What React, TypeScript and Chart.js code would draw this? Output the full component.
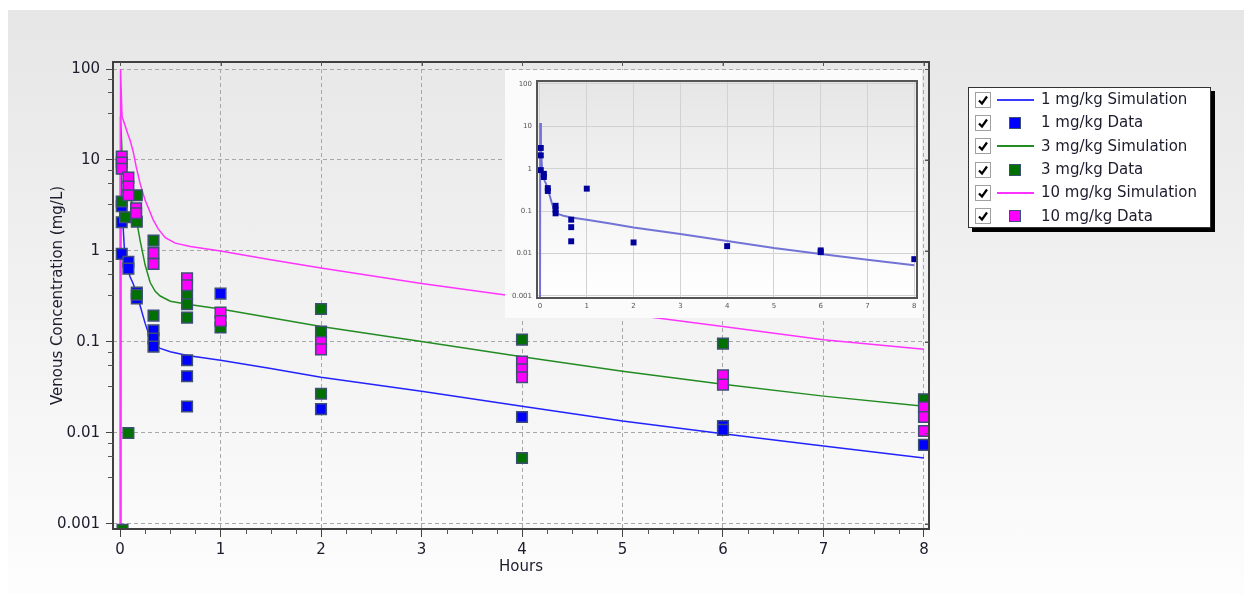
import React, { useEffect, useRef } from "react";
import { Chart, registerables } from "chart.js";
Chart.register(...registerables);

const FONT = "'DejaVu Sans', Verdana, sans-serif";

// ---- simulation curves (hours, mg/L) ----
const sim1Times = [0, 0.005, 0.02, 0.05, 0.1, 0.13, 0.17, 0.2, 0.25, 0.3, 0.35, 0.4, 0.5, 0.67, 1, 1.5, 2, 3, 4, 5, 6, 7, 8];
const sim1Values = [0.0001, 12, 3.0, 0.78, 0.52, 0.44, 0.33, 0.25, 0.16, 0.11, 0.092, 0.085, 0.078, 0.071, 0.063, 0.051, 0.041, 0.0288, 0.0197, 0.0135, 0.0098, 0.0072, 0.0053];

const sim3Times = [0, 0.005, 0.02, 0.05, 0.08, 0.12, 0.17, 0.2, 0.25, 0.3, 0.35, 0.4, 0.5, 0.67, 1, 1.5, 2, 3, 4, 5, 6, 7, 8];
const sim3Values = [0.0001, 30, 12, 6, 4.6, 3.3, 2.0, 1.3, 0.7, 0.45, 0.36, 0.32, 0.28, 0.26, 0.23, 0.185, 0.148, 0.101, 0.069, 0.0476, 0.0344, 0.0254, 0.0197];

const sim10Times = [0, 0.005, 0.02, 0.05, 0.08, 0.1, 0.13, 0.16, 0.2, 0.25, 0.28, 0.33, 0.38, 0.45, 0.55, 0.7, 1, 1.5, 2, 3, 4, 5, 6, 7, 8];
const sim10Values = [0.0001, 100, 30, 24, 19, 16.5, 12.5, 8.5, 5.5, 3.6, 3.0, 2.2, 1.75, 1.4, 1.22, 1.12, 1.0, 0.8, 0.65, 0.44, 0.31, 0.205, 0.148, 0.106, 0.083];

// ---- observed data ----
const blueTimes = [0.017, 0.017, 0.017, 0.083, 0.083, 0.167, 0.167, 0.333, 0.333, 0.333, 0.667, 0.667, 0.667, 1, 2, 4, 6, 6, 8];
const blueValues = [3.1, 2.07, 0.93, 0.76, 0.64, 0.35, 0.3, 0.134, 0.109, 0.089, 0.063, 0.042, 0.0195, 0.34, 0.0183, 0.015, 0.0119, 0.0108, 0.0074];

const greenTimes = [0.017, 0.025, 0.05, 0.083, 0.167, 0.167, 0.167, 0.333, 0.333, 0.667, 0.667, 0.667, 1, 2, 2, 2, 4, 4, 6, 8];
const greenValues = [3.5, 0.00086, 2.35, 0.01, 4.1, 2.1, 0.33, 1.3, 0.195, 0.33, 0.26, 0.185, 0.144, 0.23, 0.13, 0.027, 0.106, 0.0053, 0.096, 0.0235];

const pinkTimes = [0.017, 0.017, 0.017, 0.083, 0.083, 0.083, 0.16, 0.16, 0.333, 0.333, 0.667, 0.667, 1, 1, 2, 2, 4, 4, 4, 6, 6, 8, 8, 8];
const pinkValues = [10.9, 9.4, 8.0, 6.4, 5.1, 4.1, 2.95, 2.6, 0.95, 0.72, 0.5, 0.42, 0.21, 0.17, 0.1, 0.083, 0.061, 0.05, 0.041, 0.043, 0.034, 0.0192, 0.015, 0.0105];

// ---- axes ----
const xTicks = [0, 1, 2, 3, 4, 5, 6, 7, 8];
const yTicks = [0.001, 0.01, 0.1, 1, 10, 100];
const yMinorFactors = [0.78, 0.56, 0.33];
const xMinorStep = 0.25;

const legendItems = [
  { label: "1 mg/kg Simulation", kind: "line", color: "#3a3aff" },
  { label: "1 mg/kg Data", kind: "box", color: "#0000ff" },
  { label: "3 mg/kg Simulation", kind: "line", color: "#228b22" },
  { label: "3 mg/kg Data", kind: "box", color: "#007000" },
  { label: "10 mg/kg Simulation", kind: "line", color: "#ff33ff" },
  { label: "10 mg/kg Data", kind: "box", color: "#ff00ff" },
];

const pts = (t: number[], v: number[]) => t.map((x, i) => ({ x, y: v[i] }));

function makeFrame(color: string, width: number, minor: boolean) {
  return {
    id: "frame" + (minor ? "M" : "I"),
    afterDatasetsDraw(chart: any) {
      const { ctx, chartArea: a, scales } = chart;
      ctx.save();
      ctx.strokeStyle = color;
      ctx.lineWidth = width;
      ctx.strokeRect(a.left, a.top, a.right - a.left, a.bottom - a.top);
      if (minor) {
        ctx.lineWidth = 1;
        ctx.strokeStyle = "#555";
        ctx.beginPath();
        const ys = scales.y;
        yTicks.slice(1).forEach((d) => {
          yMinorFactors.forEach((f) => {
            const p = Math.round(ys.getPixelForValue(d * f)) + 0.5;
            ctx.moveTo(a.left - 5, p);
            ctx.lineTo(a.left, p);
          });
        });
        const xs = scales.x;
        for (let t = 0; t <= 8.001; t += xMinorStep) {
          if (Math.abs(t - Math.round(t)) < 1e-6) continue;
          const p = Math.round(xs.getPixelForValue(t)) + 0.5;
          ctx.moveTo(p, a.bottom);
          ctx.lineTo(p, a.bottom + 5);
        }
        xTicks.forEach((t) => {
          const p = Math.round(xs.getPixelForValue(t)) + 0.5;
          ctx.moveTo(p, a.top);
          ctx.lineTo(p, a.top + 4);
        });
        yTicks.forEach((v) => {
          const p = Math.round(ys.getPixelForValue(v)) + 0.5;
          ctx.moveTo(a.right - 4, p);
          ctx.lineTo(a.right, p);
        });
        ctx.stroke();
      }
      ctx.restore();
    },
  };
}

const insetBg = {
  id: "insetBg",
  beforeDraw(chart: any) {
    const { ctx, chartArea: a, width, height } = chart;
    ctx.save();
    ctx.fillStyle = "#fbfbfb";
    ctx.fillRect(0, 0, width, height);
    const g = ctx.createLinearGradient(0, a.top, 0, a.bottom);
    g.addColorStop(0, "#e6e6e6");
    g.addColorStop(1, "#ffffff");
    ctx.fillStyle = g;
    ctx.fillRect(a.left, a.top, a.right - a.left, a.bottom - a.top);
    ctx.restore();
  },
};

const dataStyle = (color: string, order: number) => ({
  pointStyle: "rect",
  pointRadius: 7.5,
  pointBackgroundColor: color,
  pointBorderColor: "#3d4f73",
  pointBorderWidth: 1.5,
  backgroundColor: color,
  borderColor: "#3d4f73",
  showLine: false,
  order,
  clip: 0,
});

const lineStyle = (color: string, order: number) => ({
  showLine: true,
  pointRadius: 0,
  borderColor: color,
  backgroundColor: color,
  borderWidth: 1.5,
  tension: 0,
  order,
  clip: 1,
});

export default function App() {
  const mainRef = useRef<HTMLCanvasElement>(null);
  const insetRef = useRef<HTMLCanvasElement>(null);

  useEffect(() => {
    const tickFont = { family: FONT, size: 15 };
    const main = new Chart(mainRef.current as HTMLCanvasElement, {
      type: "scatter",
      data: {
        datasets: [
          { label: "10 mg/kg Data", data: pts(pinkTimes, pinkValues), ...dataStyle("#ff00ff", 1) },
          { label: "3 mg/kg Data", data: pts(greenTimes, greenValues), ...dataStyle("#007000", 2) },
          { label: "1 mg/kg Data", data: pts(blueTimes, blueValues), ...dataStyle("#0000ff", 3) },
          { label: "10 mg/kg Simulation", data: pts(sim10Times, sim10Values), ...lineStyle("#ff33ff", 4) },
          { label: "3 mg/kg Simulation", data: pts(sim3Times, sim3Values), ...lineStyle("#228b22", 5) },
          { label: "1 mg/kg Simulation", data: pts(sim1Times, sim1Values), ...lineStyle("#2222ff", 6) },
        ] as any,
      },
      options: {
        animation: false,
        responsive: false,
        layout: { padding: { left: 49, top: 62, right: 315, bottom: 18 } },
        plugins: { legend: { display: false }, tooltip: { enabled: false } },
        scales: {
          x: {
            type: "linear",
            min: -0.07,
            max: 8.05,
            afterBuildTicks: (s: any) => {
              s.ticks = xTicks.map((v) => ({ value: v }));
            },
            afterFit: (s: any) => {
              s.height = 47;
            },
            ticks: { font: tickFont, color: "#1c1c2c", padding: 4, maxRotation: 0, autoSkip: false, callback: (v: any) => String(v) },
            grid: { color: "#a8a8a8", lineWidth: 1, tickColor: "#444", tickLength: 8, tickWidth: 1 },
            border: { display: false, dash: [4, 3] },
            title: { display: true, text: "Hours", font: tickFont, color: "#1c1c2c", padding: 0 },
          },
          y: {
            type: "logarithmic",
            min: 0.00088,
            max: 119.4,
            afterBuildTicks: (s: any) => {
              s.ticks = yTicks.map((v) => ({ value: v }));
            },
            afterFit: (s: any) => {
              s.width = 64;
            },
            ticks: { font: tickFont, color: "#1c1c2c", padding: 6, autoSkip: false, callback: (v: any) => String(v) },
            grid: { color: "#a8a8a8", lineWidth: 1, tickColor: "#444", tickLength: 7, tickWidth: 1 },
            border: { display: false, dash: [4, 3] },
            title: { display: true, text: "Venous Concentration (mg/L)", font: tickFont, color: "#1c1c2c", padding: 0 },
          },
        },
      } as any,
      plugins: [makeFrame("#404040", 2, true)],
    });

    const smallFont = { family: FONT, size: 7 };
    const inset = new Chart(insetRef.current as HTMLCanvasElement, {
      type: "scatter",
      data: {
        datasets: [
          {
            label: "1 mg/kg Data",
            data: pts(blueTimes, blueValues),
            pointStyle: "rect",
            pointRadius: 4.2,
            pointBackgroundColor: "#00009a",
            pointBorderColor: "#00009a",
            pointBorderWidth: 0,
            showLine: false,
            order: 1,
            clip: 0,
          },
          {
            label: "1 mg/kg Simulation",
            data: pts(sim1Times, sim1Values),
            showLine: true,
            pointRadius: 0,
            borderColor: "rgb(115,115,215)",
            borderWidth: 2,
            tension: 0,
            order: 2,
            clip: 1,
          },
        ] as any,
      },
      options: {
        animation: false,
        responsive: false,
        layout: { padding: { left: 2, top: 11, right: 5, bottom: 4 } },
        plugins: { legend: { display: false }, tooltip: { enabled: false } },
        scales: {
          x: {
            type: "linear",
            min: -0.064,
            max: 8.058,
            afterBuildTicks: (s: any) => {
              s.ticks = xTicks.map((v) => ({ value: v }));
            },
            afterFit: (s: any) => {
              s.height = 16;
            },
            ticks: { font: smallFont, color: "#555", padding: 4, maxRotation: 0, autoSkip: false, callback: (v: any) => String(v) },
            grid: { color: "#d2d2d2", lineWidth: 1, drawTicks: false },
            border: { display: false },
          },
          y: {
            type: "logarithmic",
            min: 0.000897,
            max: 117.5,
            afterBuildTicks: (s: any) => {
              s.ticks = yTicks.map((v) => ({ value: v }));
            },
            afterFit: (s: any) => {
              s.width = 30;
            },
            ticks: { font: smallFont, color: "#555", padding: 5, autoSkip: false, callback: (v: any) => String(v) },
            grid: { color: "#d2d2d2", lineWidth: 1, drawTicks: false },
            border: { display: false },
          },
        },
      } as any,
      plugins: [insetBg, makeFrame("#555", 2, false)],
    });

    return () => {
      main.destroy();
      inset.destroy();
    };
  }, []);

  const rowH = 23.3;
  return (
    <div
      style={{
        position: "absolute",
        left: 0,
        top: 0,
        width: 1244,
        height: 594,
        background: "#ffffff",
        overflow: "hidden",
        fontFamily: FONT,
      }}
    >
      <div
        style={{
          position: "absolute",
          left: 8,
          top: 10,
          width: 1236,
          height: 584,
          background: "linear-gradient(#e6e6e6, #fdfdfd)",
        }}
      />
      <canvas ref={mainRef} width={1244} height={594} style={{ position: "absolute", left: 0, top: 0, display: "block" }} />
      <canvas ref={insetRef} width={417} height={248} style={{ position: "absolute", left: 505, top: 70, display: "block" }} />
      <div
        style={{
          position: "absolute",
          left: 968,
          top: 87,
          width: 241,
          height: 139,
          background: "#fff",
          border: "1px solid #333",
          boxShadow: "4px 4px 0 #000",
        }}
      >
        {legendItems.map((it, i) => (
          <div key={i} style={{ position: "absolute", left: 0, top: i * rowH, height: rowH, width: 241 }}>
            <div
              style={{
                position: "absolute",
                left: 6,
                top: rowH / 2 - 8,
                width: 14,
                height: 14,
                border: "1px solid #a0a0a0",
                background: "#fff",
              }}
            >
              <svg width="14" height="14" viewBox="0 0 14 14" style={{ display: "block" }}>
                <path d="M3 7.5 L6 10.5 L11 3.5" stroke="#000" strokeWidth="2.2" fill="none" />
              </svg>
            </div>
            {it.kind === "line" ? (
              <div
                style={{
                  position: "absolute",
                  left: 28,
                  top: rowH / 2 - 1,
                  width: 37,
                  height: 2,
                  background: it.color,
                }}
              />
            ) : (
              <div
                style={{
                  position: "absolute",
                  left: 40,
                  top: rowH / 2 - 6,
                  width: 10,
                  height: 10,
                  background: it.color,
                  border: "1px solid #3d4f73",
                }}
              />
            )}
            <div
              style={{
                position: "absolute",
                left: 72,
                top: 0,
                height: rowH,
                lineHeight: rowH + "px",
                fontSize: 15,
                color: "#1c1c2c",
                whiteSpace: "nowrap",
              }}
            >
              {it.label}
            </div>
          </div>
        ))}
      </div>
    </div>
  );
}
